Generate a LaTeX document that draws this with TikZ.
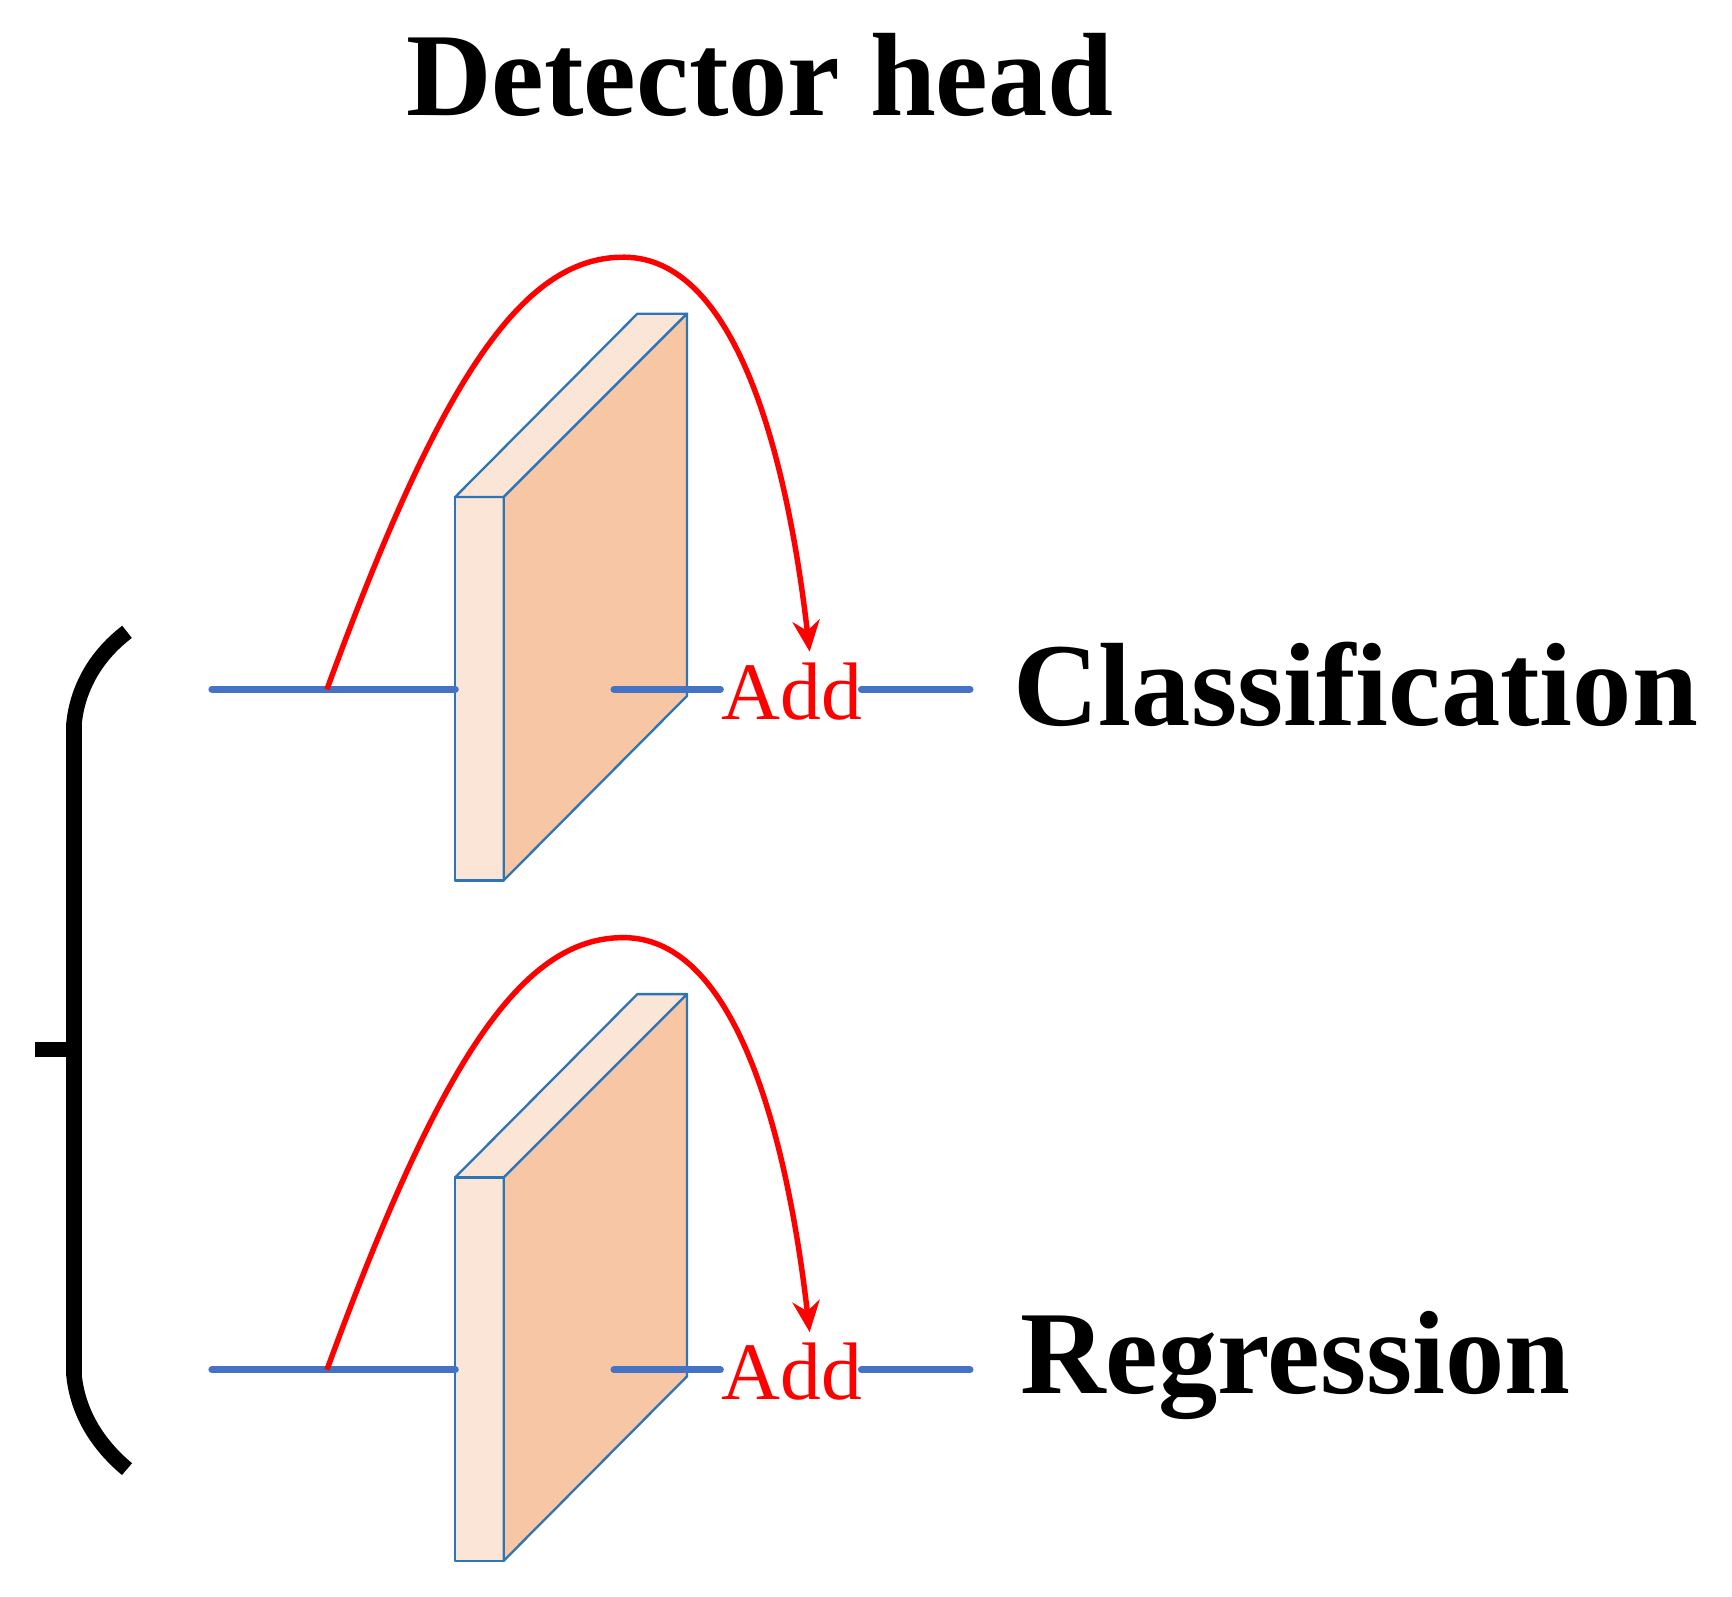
\documentclass[tikz,border=0pt]{standalone}
\usepackage{fontspec}
\setmainfont{Liberation Serif}
\usetikzlibrary{arrows.meta}
\definecolor{fr}{HTML}{FBE5D6}
\definecolor{sd}{HTML}{F7C7A5}
\definecolor{edge}{HTML}{2E75B6}
\definecolor{ln}{HTML}{4472C4}
\begin{document}
\begin{tikzpicture}[x=0.01cm,y=-0.01cm,
  face/.style={draw=edge,line width=0.6pt,line join=round},
  wire/.style={draw=ln,line width=1.9pt,line cap=round},
  skip/.style={draw=red,line width=1.4pt,-{Stealth[length=8pt,width=7pt]}},
  lab/.style={font=\fontsize{30.5}{32}\selectfont\bfseries,anchor=west},
  addt/.style={text=red,font=\fontsize{21}{22}\selectfont,inner sep=1pt}]
\useasboundingbox (0,0) rectangle (1568,1445);
\node[font=\fontsize{30.5}{32}\selectfont\bfseries] (title) at (688,68) {Detector head};
% brace
\draw[line width=4pt] (115,572) .. controls (85,595) and (70,625) .. (67,655) -- (67,1245) .. controls (70,1275) and (85,1305) .. (115,1330);
\coordinate (bt) at (32,950); \coordinate (bm) at (67,950);
\draw[line width=4pt] (bt) -- (bm);
\foreach \dy/\txt/\n/\lx in {0/Classification/c/905,616/Regression/r/911}{
\begin{scope}[yshift=-\dy*0.01cm]
\fill[fr] (412,450) rectangle (456,797);
\draw[face,fill=fr] (412,450) -- (577,284) -- (622,284) -- (456,450) -- cycle;
\draw[face,fill=sd] (456,450) -- (622,284) -- (622,630) -- (456,797) -- cycle;
\draw[face] (412,450) rectangle (456,797);
\coordinate (in\n) at (192,624);
\coordinate (s\n) at (296,624);
\coordinate (f\n) at (412,624);
\coordinate (o\n) at (556,624);
\coordinate (oe\n) at (652,624);
\node[addt] (add\n) at (717,626) {Add};
\coordinate (e\n) at (780,624);
\coordinate (x\n) at (878,624);
\draw[wire] (in\n) -- (f\n);
\draw[wire] (o\n) -- (oe\n);
\draw[wire] (e\n) -- (x\n);
\node[lab] (t\n) at (\lx,620) {\txt};
\draw[skip] (s\n) .. controls (400,340) and (475,228) .. (570,233) .. controls (680,240) and (718,460) .. (733,590);
\end{scope}}
\end{tikzpicture}
\end{document}
